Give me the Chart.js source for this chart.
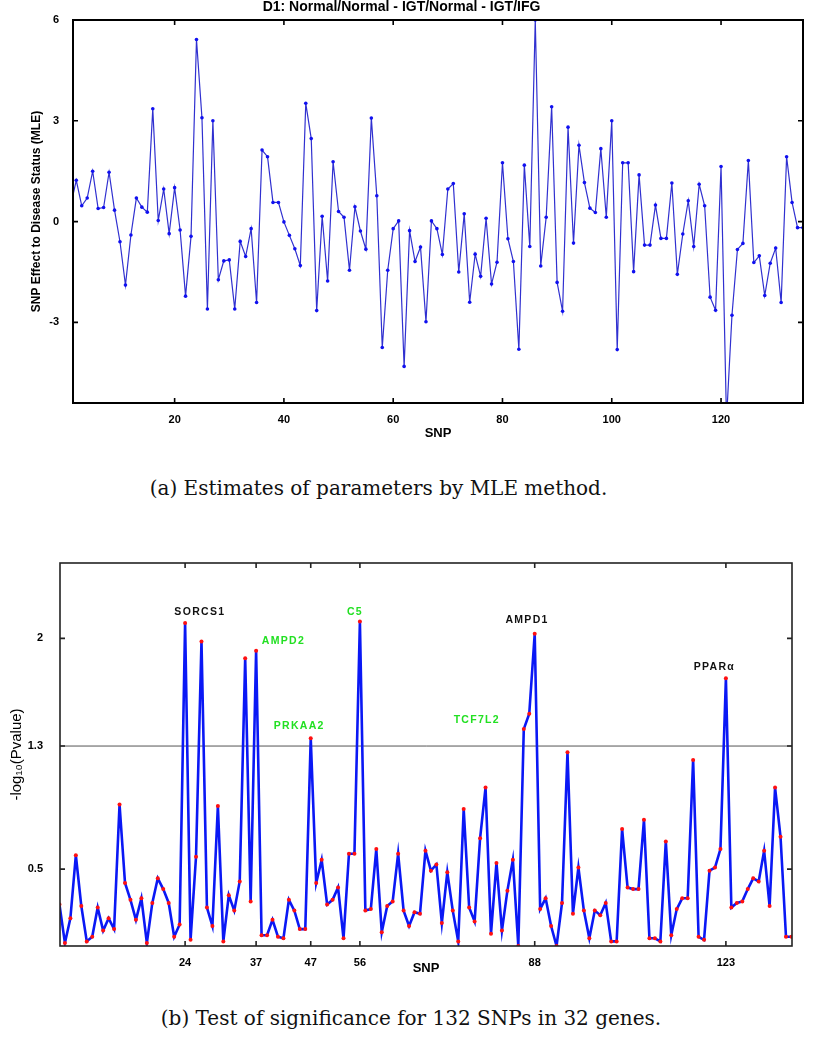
<!DOCTYPE html>
<html>
<head>
<meta charset="utf-8">
<script src="https://cdn.jsdelivr.net/npm/chart.js@4.4.1/dist/chart.umd.min.js"></script>
<style>
  body { margin: 0; background: #fff; }
  #page { position: relative; width: 817px; height: 1050px; overflow: hidden; }
  .box { position: absolute; left: 0; width: 817px; }
  .caption { position: absolute; font-family: "DejaVu Serif", "Liberation Serif", serif; font-size: 20px; line-height: 24px; color: #111; white-space: nowrap; text-align: center; }
</style>
</head>
<body>
<div id="page">
  <div class="box" style="top:0;height:450px"><canvas id="mleChart" width="817" height="450"></canvas></div>
  <div class="caption" style="top:476px;left:0;width:757px">(a) Estimates of parameters by MLE method.</div>
  <div class="box" style="top:540px;height:440px"><canvas id="pvalChart" width="817" height="440"></canvas></div>
  <div class="caption" style="top:1006px;left:0;width:822px">(b) Test of significance for 132 SNPs in 32 genes.</div>
</div>
<script>
// SNP index along the x axis
const snpIds = Array.from({ length: 135 }, (_, i) => i + 1)

// (a) MLE estimate of SNP effect, one value per SNP
const mleEffect = [
  0.50, 1.23, 0.47, 0.70, 1.50, 0.39, 0.42, 1.47, 0.34, -0.60,
  -1.89, -0.40, 0.70, 0.43, 0.28, 3.36, 0.03, 0.97, -0.36, 1.01,
  -0.25, -2.22, -0.44, 5.42, 3.09, -2.60, 3.00, -1.73, -1.17, -1.14,
  -2.60, -0.59, -1.04, -0.21, -2.41, 2.13, 1.93, 0.57, 0.57, -0.01,
  -0.41, -0.81, -1.31, 3.52, 2.47, -2.65, 0.16, -1.77, 1.78, 0.30,
  0.13, -1.45, 0.44, -0.28, -0.82, 3.08, 0.77, -3.75, -1.45, -0.21,
  0.02, -4.31, -0.27, -1.19, -0.76, -2.98, 0.02, -0.21, -0.98, 0.97,
  1.13, -1.50, 0.23, -2.40, -0.97, -1.63, 0.10, -1.86, -1.21, 1.75,
  -0.51, -1.19, -3.80, 1.68, -0.74, 6.00, -1.32, 0.13, 3.42, -1.81,
  -2.67, 2.81, -0.64, 2.27, 1.16, 0.40, 0.27, 2.17, 0.13, 3.00,
  -3.81, 1.75, 1.75, -1.49, 1.39, -0.70, -0.70, 0.49, -0.50, -0.50,
  1.15, -1.57, -0.37, 0.62, -0.74, 1.11, 0.47, -2.25, -2.64, 1.64,
  -5.90, -2.79, -0.83, -0.65, 1.82, -1.22, -1.02, -2.20, -1.24, -0.79,
  -2.41, 1.93, 0.57, -0.18, -0.18
]

// (b) -log10(p value) per SNP
const negLogP = [
  0.27, 0.02, 0.18, 0.59, 0.26, 0.03, 0.06, 0.25, 0.10, 0.18,
  0.11, 0.92, 0.41, 0.30, 0.17, 0.31, 0.02, 0.28, 0.44, 0.37,
  0.28, 0.06, 0.14, 2.10, 0.04, 0.58, 1.98, 0.25, 0.13, 0.91,
  0.03, 0.33, 0.23, 0.42, 1.87, 0.29, 1.92, 0.07, 0.07, 0.17,
  0.06, 0.05, 0.30, 0.23, 0.11, 0.11, 1.35, 0.41, 0.56, 0.27,
  0.30, 0.38, 0.05, 0.60, 0.60, 2.11, 0.23, 0.24, 0.63, 0.09,
  0.26, 0.29, 0.60, 0.23, 0.13, 0.22, 0.21, 0.62, 0.49, 0.53,
  0.15, 0.48, 0.23, 0.03, 0.89, 0.25, 0.16, 0.70, 1.03, 0.08,
  0.54, 0.10, 0.36, 0.56, 0.00, 1.41, 1.51, 2.03, 0.24, 0.31,
  0.13, 0.00, 0.28, 1.26, 0.21, 0.51, 0.23, 0.05, 0.23, 0.20,
  0.28, 0.03, 0.03, 0.76, 0.38, 0.37, 0.37, 0.82, 0.05, 0.05,
  0.03, 0.68, 0.07, 0.24, 0.31, 0.31, 1.21, 0.06, 0.04, 0.49,
  0.51, 0.63, 1.74, 0.25, 0.28, 0.29, 0.37, 0.44, 0.42, 0.62,
  0.26, 1.03, 0.71, 0.06, 0.06
]

// significance threshold (-log10 0.05)
const threshold = 1.3

// tick labels
const mleXTicks = [20, 40, 60, 80, 100, 120]
const mleYTicks = [-3, 0, 3, 6]
const pvalXTicks = [24, 37, 47, 56, 88, 123]
const pvalYTicks = [0.5, 1.3, 2]

// gene labels in the lower panel, anchored in data units
const geneNames = ['SORCS1', 'AMPD2', 'PRKAA2', 'C5', 'TCF7L2', 'AMPD1', 'PPAR\u03b1']
const geneSnp = [26.7, 42.0, 44.9, 55.1, 77.4, 86.6, 120.9]
const geneY = [2.17, 1.98, 1.43, 2.17, 1.47, 2.12, 1.81]
const geneKnown = [false, true, true, true, true, false, false]

const toPoints = (ys) => snpIds.map((x, i) => ({ x, y: ys[i] }))

// box around the plot with inward MATLAB-style ticks
const framePlugin = {
  id: 'frame',
  afterDatasetsDraw(chart, args, opts) {
    const { ctx, chartArea: a, scales: { x, y } } = chart
    ctx.save()
    ctx.strokeStyle = opts.color
    ctx.lineWidth = opts.width
    ctx.strokeRect(a.left, a.top, a.right - a.left, a.bottom - a.top)
    ctx.lineWidth = 1.6
    ctx.beginPath()
    x.ticks.forEach(t => {
      const px = x.getPixelForValue(t.value)
      ctx.moveTo(px, a.bottom); ctx.lineTo(px, a.bottom - 5)
      ctx.moveTo(px, a.top); ctx.lineTo(px, a.top + 5)
    })
    y.ticks.forEach(t => {
      const py = y.getPixelForValue(t.value)
      ctx.moveTo(a.left, py); ctx.lineTo(a.left + 5, py)
      ctx.moveTo(a.right, py); ctx.lineTo(a.right - 5, py)
    })
    ctx.stroke()
    ctx.restore()
  }
}

const genePlugin = {
  id: 'genes',
  afterDatasetsDraw(chart, args, opts) {
    if (!opts.names) return
    const { ctx, scales: { x, y } } = chart
    ctx.save()
    ctx.font = 'bold 10.5px "Liberation Sans", Arial, sans-serif'
    ctx.letterSpacing = '1.3px'
    ctx.textAlign = 'center'
    ctx.textBaseline = 'middle'
    opts.names.forEach((name, i) => {
      ctx.fillStyle = opts.known[i] ? '#22e022' : '#111'
      ctx.fillText(name, x.getPixelForValue(opts.snp[i]), y.getPixelForValue(opts.y[i]))
    })
    ctx.restore()
  }
}

const tickFont = { family: '"Liberation Sans", Arial, sans-serif', size: 11, weight: 'bold' }

// (a) MLE estimates
new Chart(document.getElementById('mleChart'), {
  type: 'line',
  data: {
    datasets: [{
      data: toPoints(mleEffect),
      borderColor: '#3030d0',
      borderWidth: 1.2,
      pointRadius: 1.8,
      pointBackgroundColor: '#1010f0',
      pointBorderWidth: 0,
      tension: 0
    }]
  },
  options: {
    responsive: false,
    animation: false,
    layout: { padding: { left: 0, right: 14, top: 0, bottom: 0 } },
    scales: {
      x: {
        type: 'linear',
        min: 1.4,
        max: 135,
        afterBuildTicks: (s) => { s.ticks = mleXTicks.map(value => ({ value })) },
        afterFit: (s) => { s.height = 47 },
        grid: { display: false },
        border: { display: false },
        ticks: { color: '#000', font: tickFont, padding: 2, maxRotation: 0 },
        title: {
          display: true, text: 'SNP', color: '#000',
          font: { family: '"Liberation Sans", Arial, sans-serif', size: 13, weight: 'bold' },
          padding: { top: 0, bottom: 9 }
        }
      },
      y: {
        min: -5.4,
        max: 6,
        afterBuildTicks: (s) => { s.ticks = mleYTicks.map(value => ({ value })) },
        afterFit: (s) => { s.width = 73 },
        grid: { display: false },
        border: { display: false },
        ticks: { color: '#000', font: tickFont, padding: 6 },
        title: {
          display: true, text: 'SNP Effect to Disease Status (MLE)', color: '#000',
          font: { family: '"Liberation Sans Narrow", "Liberation Sans", Arial, sans-serif', size: 12, weight: 'bold' },
          padding: { top: 29, bottom: 0 }
        }
      }
    },
    plugins: {
      legend: { display: false },
      tooltip: { enabled: false },
      title: {
        display: true,
        text: 'D1: Normal/Normal - IGT/Normal - IGT/IFG',
        color: '#000',
        font: { family: '"Liberation Sans", Arial, sans-serif', size: 14, weight: 'bold', lineHeight: 1 },
        padding: { top: 0, bottom: 6 }
      },
      frame: { color: '#000', width: 2 }
    }
  },
  plugins: [framePlugin]
})

// (b) test of significance
new Chart(document.getElementById('pvalChart'), {
  type: 'line',
  data: {
    datasets: [{
      data: toPoints(negLogP),
      borderColor: '#0a18f5',
      borderWidth: 2.6,
      pointRadius: 2,
      pointBackgroundColor: '#ff1010',
      pointBorderWidth: 0,
      tension: 0,
      order: 1
    }, {
      data: [{ x: 1, y: threshold }, { x: 136, y: threshold }],
      borderColor: '#555',
      borderWidth: 1,
      pointRadius: 0,
      order: 2
    }]
  },
  options: {
    responsive: false,
    animation: false,
    layout: { padding: { left: 0, right: 25, top: 23, bottom: 0 } },
    scales: {
      x: {
        type: 'linear',
        min: 1.1,
        max: 135.1,
        afterBuildTicks: (s) => { s.ticks = pvalXTicks.map(value => ({ value })) },
        afterFit: (s) => { s.height = 34 },
        grid: { display: false },
        border: { display: false },
        ticks: { color: '#000', font: tickFont, padding: 2, maxRotation: 0 },
        title: {
          display: true, text: 'SNP', color: '#000',
          font: { family: '"Liberation Sans", Arial, sans-serif', size: 13, weight: 'bold' },
          padding: { top: 0, bottom: 4 }
        }
      },
      y: {
        min: 0,
        max: 2.49,
        afterBuildTicks: (s) => { s.ticks = pvalYTicks.map(value => ({ value })) },
        afterFit: (s) => { s.width = 60 },
        grid: { display: false },
        border: { display: false },
        ticks: { color: '#000', font: tickFont, padding: 9, callback: (v) => String(v) },
        title: {
          display: true, text: '-log\u2081\u2080(Pvalue)', color: '#000',
          font: { family: '"Liberation Sans", Arial, sans-serif', size: 15 },
          padding: { top: 8, bottom: 0 }
        }
      }
    },
    plugins: {
      legend: { display: false },
      tooltip: { enabled: false },
      frame: { color: '#222', width: 1.6 },
      genes: { names: geneNames, snp: geneSnp, y: geneY, known: geneKnown }
    }
  },
  plugins: [framePlugin, genePlugin]
})
</script>
</body>
</html>
